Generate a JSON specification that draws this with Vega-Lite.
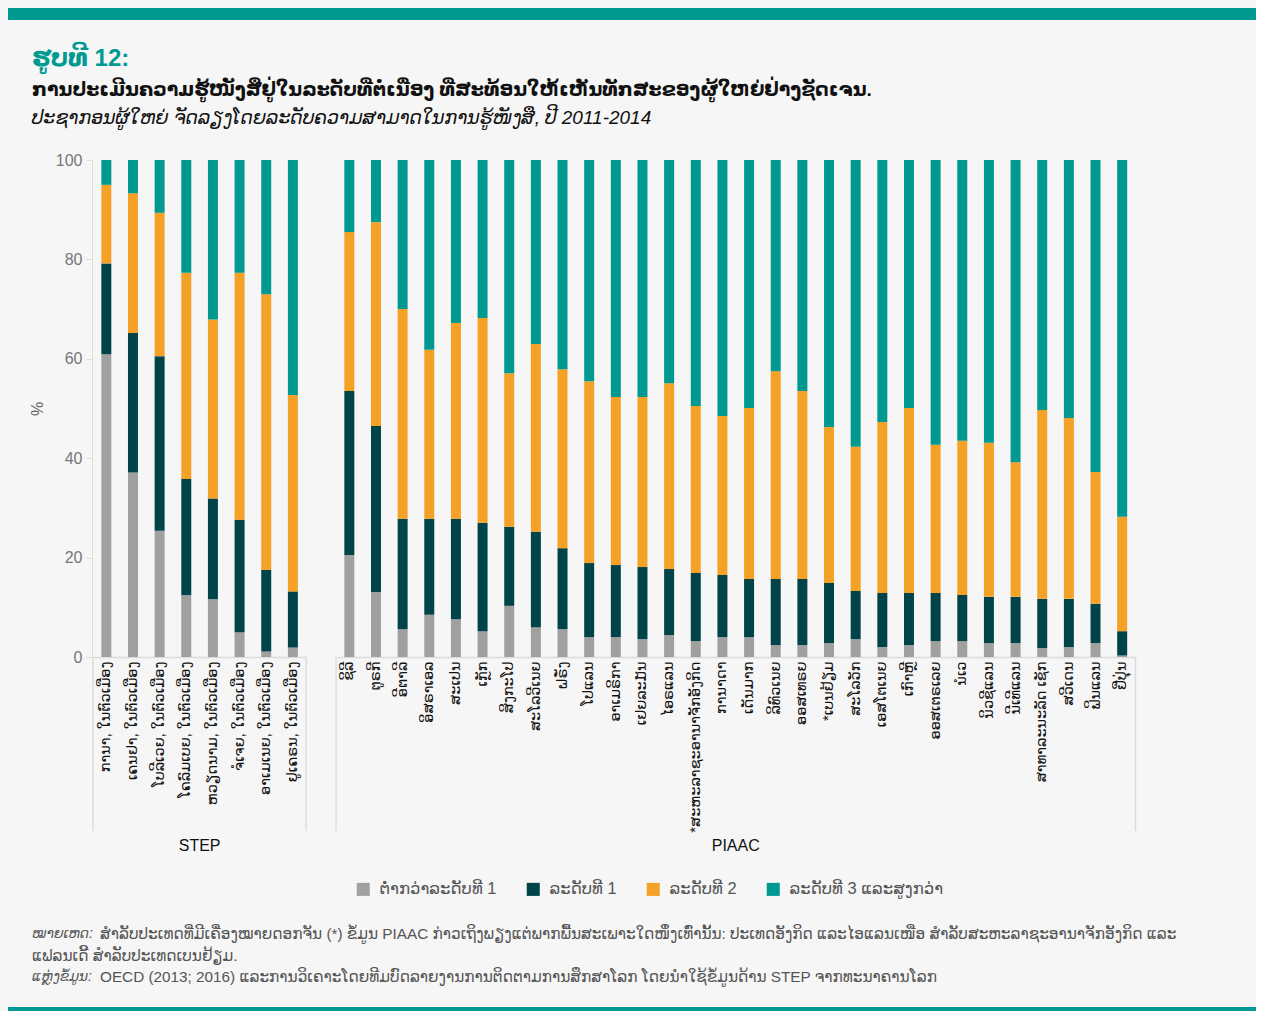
{
  "$schema": "https://vega.github.io/schema/vega-lite/v6.json",
  "background": "#f6f6f6",
  "padding": {"left": 8, "top": 8, "right": 0, "bottom": 0},
  "config": {
    "view": {"stroke": null},
    "font": "Liberation Sans, DejaVu Sans, sans-serif"
  },
  "columns": 1,
  "spacing": 9,
  "resolve": {"legend": {"color": "independent"}},
  "concat": [
    {
      "width": 1163,
      "height": 12,
      "data": {"values": [{"band": "top"}]},
      "mark": {"type": "rect", "color": "#009a93"},
      "encoding": {
        "x": {"datum": 0, "type": "quantitative", "scale": {"domain": [0, 1], "range": [-85, 1163]}, "axis": null},
        "x2": {"datum": 1},
        "y": {"datum": 0, "type": "quantitative", "scale": {"domain": [0, 1]}, "axis": null},
        "y2": {"datum": 1}
      },
      "title": {
        "text": "ຮູບທີ 12:",
        "subtitle": "ການປະເມີນຄວາມຮູ້ໜັງສືຢູ່ໃນລະດັບທີ່ຕໍ່ເນື່ອງ ທີ່ສະທ້ອນໃຫ້ເຫັນທັກສະຂອງຜູ້ໃຫຍ່ຢ່າງຊັດເຈນ.",
        "orient": "bottom",
        "anchor": "start",
        "frame": "group",
        "dx": -61,
        "offset": 27,
        "color": "#009a93",
        "fontSize": 24,
        "fontWeight": "bold",
        "subtitleColor": "#111111",
        "subtitleFontSize": 19,
        "subtitleFontWeight": "bold",
        "subtitlePadding": 10
      }
    },
    {
      "data": {
        "values": [
          {"survey": "STEP", "country": "ການາ, ໃນຕົວເມືອງ", "below1": 60.9, "level1": 18.3, "level2": 15.8, "level3": 5.0},
          {"survey": "STEP", "country": "ເຄນຢາ, ໃນຕົວເມືອງ", "below1": 37.1, "level1": 28.1, "level2": 28.1, "level3": 6.7},
          {"survey": "STEP", "country": "ໂບລີເວຍ, ໃນຕົວເມືອງ", "below1": 25.4, "level1": 35.1, "level2": 28.9, "level3": 10.6},
          {"survey": "STEP", "country": "ໂຄລົມເບຍ, ໃນຕົວເມືອງ", "below1": 12.4, "level1": 23.4, "level2": 41.5, "level3": 22.7},
          {"survey": "STEP", "country": "ຫວຽດນາມ, ໃນຕົວເມືອງ", "below1": 11.6, "level1": 20.3, "level2": 36.0, "level3": 32.1},
          {"survey": "STEP", "country": "ຈໍເຈຍ, ໃນຕົວເມືອງ", "below1": 5.0, "level1": 22.6, "level2": 49.7, "level3": 22.7},
          {"survey": "STEP", "country": "ອາເມເນຍ, ໃນຕົວເມືອງ", "below1": 1.1, "level1": 16.4, "level2": 55.5, "level3": 27.0},
          {"survey": "STEP", "country": "ຢູເຄຣນ, ໃນຕົວເມືອງ", "below1": 1.9, "level1": 11.3, "level2": 39.5, "level3": 47.3},
          {"survey": "PIAAC", "country": "ຊິລີ", "below1": 20.5, "level1": 33.0, "level2": 32.0, "level3": 14.5},
          {"survey": "PIAAC", "country": "ຕູຣກີ", "below1": 13.1, "level1": 33.4, "level2": 41.0, "level3": 12.5},
          {"survey": "PIAAC", "country": "ອີຕາລີ", "below1": 5.6, "level1": 22.2, "level2": 42.2, "level3": 30.0},
          {"survey": "PIAAC", "country": "ອິສຣາເອລ", "below1": 8.5, "level1": 19.3, "level2": 34.0, "level3": 38.2},
          {"survey": "PIAAC", "country": "ສະເປນ", "below1": 7.6, "level1": 20.2, "level2": 39.4, "level3": 32.8},
          {"survey": "PIAAC", "country": "ເກຼັກ", "below1": 5.2, "level1": 21.8, "level2": 41.2, "level3": 31.8},
          {"survey": "PIAAC", "country": "ສິງກະໂປ", "below1": 10.3, "level1": 15.9, "level2": 30.9, "level3": 42.9},
          {"survey": "PIAAC", "country": "ສະໂລວີເນຍ", "below1": 6.0, "level1": 19.2, "level2": 37.8, "level3": 37.0},
          {"survey": "PIAAC", "country": "ຝຣັ່ງ", "below1": 5.6, "level1": 16.3, "level2": 36.0, "level3": 42.1},
          {"survey": "PIAAC", "country": "ໂປແລນ", "below1": 4.0, "level1": 14.9, "level2": 36.6, "level3": 44.5},
          {"survey": "PIAAC", "country": "ອາເມຣິກາ", "below1": 4.0, "level1": 14.5, "level2": 33.8, "level3": 47.7},
          {"survey": "PIAAC", "country": "ເຢຍລະມັນ", "below1": 3.6, "level1": 14.5, "level2": 34.2, "level3": 47.7},
          {"survey": "PIAAC", "country": "ໄອຣແລນ", "below1": 4.4, "level1": 13.3, "level2": 37.4, "level3": 44.9},
          {"survey": "PIAAC", "country": "*ສະຫະລາຊະອານາຈັກອັງກິດ", "below1": 3.2, "level1": 13.7, "level2": 33.6, "level3": 49.5},
          {"survey": "PIAAC", "country": "ການາດາ", "below1": 4.0, "level1": 12.5, "level2": 32.0, "level3": 51.5},
          {"survey": "PIAAC", "country": "ເດັນມາກ", "below1": 4.0, "level1": 11.7, "level2": 34.4, "level3": 49.9},
          {"survey": "PIAAC", "country": "ລິທົວເນຍ", "below1": 2.4, "level1": 13.3, "level2": 41.8, "level3": 42.5},
          {"survey": "PIAAC", "country": "ອອສເທຣຍ", "below1": 2.4, "level1": 13.3, "level2": 37.8, "level3": 46.5},
          {"survey": "PIAAC", "country": "*ເບນຢ້ຽມ", "below1": 2.8, "level1": 12.1, "level2": 31.4, "level3": 53.7},
          {"survey": "PIAAC", "country": "ສະໂລວັກ", "below1": 3.6, "level1": 9.7, "level2": 29.0, "level3": 57.7},
          {"survey": "PIAAC", "country": "ເອສໂຕເນຍ", "below1": 2.0, "level1": 10.9, "level2": 34.4, "level3": 52.7},
          {"survey": "PIAAC", "country": "ເກົາຫຼີ", "below1": 2.4, "level1": 10.5, "level2": 37.2, "level3": 49.9},
          {"survey": "PIAAC", "country": "ອອສເຕຣເລຍ", "below1": 3.2, "level1": 9.7, "level2": 29.8, "level3": 57.3},
          {"survey": "PIAAC", "country": "ນໍເວ", "below1": 3.2, "level1": 9.3, "level2": 31.0, "level3": 56.5},
          {"survey": "PIAAC", "country": "ນິວຊີແລນ", "below1": 2.8, "level1": 9.3, "level2": 31.0, "level3": 56.9},
          {"survey": "PIAAC", "country": "ນີເທີແລນ", "below1": 2.8, "level1": 9.3, "level2": 27.1, "level3": 60.8},
          {"survey": "PIAAC", "country": "ສາທາລະນະລັດ ເຊັກ", "below1": 1.8, "level1": 9.9, "level2": 38.0, "level3": 50.3},
          {"survey": "PIAAC", "country": "ສວີເດນ", "below1": 2.0, "level1": 9.7, "level2": 36.4, "level3": 51.9},
          {"survey": "PIAAC", "country": "ຟິນແລນ", "below1": 2.8, "level1": 7.9, "level2": 26.5, "level3": 62.8},
          {"survey": "PIAAC", "country": "ຢີ່ປຸ່ນ", "below1": 0.3, "level1": 4.9, "level2": 23.0, "level3": 71.8}
        ]
      },
      "transform": [{"fold": ["below1", "level1", "level2", "level3"], "as": ["level", "pct"]}],
      "title": {
        "text": "ປະຊາກອນຜູ້ໃຫຍ່ ຈັດລຽງໂດຍລະດັບຄວາມສາມາດໃນການຮູ້ໜັງສື, ປີ 2011-2014",
        "anchor": "start",
        "frame": "group",
        "dx": -61,
        "fontStyle": "italic",
        "fontWeight": "normal",
        "fontSize": 19,
        "color": "#111111",
        "offset": 24
      },
      "facet": {
        "column": {
          "field": "survey",
          "type": "nominal",
          "sort": ["STEP", "PIAAC"],
          "header": {"title": null, "labelOrient": "bottom", "labelFontSize": 16, "labelColor": "#111111", "labelPadding": 5}
        }
      },
      "spacing": 28,
      "resolve": {"scale": {"x": "independent"}},
      "spec": {
        "width": {"step": 26.65},
        "height": 497,
        "encoding": {
          "x": {
            "field": "country",
            "type": "nominal",
            "sort": null,
            "scale": {"paddingInner": 0.625, "paddingOuter": 0.3125},
            "axis": {
              "title": null,
              "labelAngle": -90,
              "labelAlign": "right",
              "labelBaseline": "middle",
              "labelFontSize": 14.5,
              "labelColor": "#111111",
              "labelLimit": 400,
              "labelOverlap": false,
              "labelPadding": 4,
              "ticks": false,
              "domainColor": "#dcdcdc",
              "domainWidth": 1.5
            }
          }
        },
        "layer": [
          {
            "mark": {"type": "bar"},
            "encoding": {
              "y": {
                "field": "pct",
                "type": "quantitative",
                "stack": "zero",
                "scale": {"domain": [0, 100]},
                "axis": {
                  "title": "%",
                  "titleFontSize": 16,
                  "titleFontWeight": "normal",
                  "titleColor": "#666666",
                  "titlePadding": 10,
                  "labelFontSize": 16,
                  "labelColor": "#777777",
                  "values": [0, 20, 40, 60, 80, 100],
                  "grid": false,
                  "domainColor": "#dcdcdc",
                  "tickColor": "#dcdcdc",
                  "tickSize": 6,
                  "labelPadding": 4
                }
              },
              "order": {"field": "level", "type": "nominal", "sort": "ascending"},
              "color": {
                "field": "level",
                "type": "nominal",
                "sort": ["below1", "level1", "level2", "level3"],
                "scale": {"domain": ["below1", "level1", "level2", "level3"], "range": ["#a0a09f", "#004349", "#f5a126", "#009991"]},
                "legend": {
                  "orient": "none",
                  "legendX": 262,
                  "legendY": 721,
                  "direction": "horizontal",
                  "title": null,
                  "labelFontSize": 16.5,
                  "labelColor": "#555555",
                  "symbolType": "square",
                  "symbolSize": 170,
                  "symbolStrokeWidth": 0,
                  "symbolOpacity": 1,
                  "columnPadding": 28,
                  "labelOffset": 8,
                  "labelExpr": "datum.label == 'below1' ? 'ຕ່ຳກວ່າລະດັບທີ 1' : datum.label == 'level1' ? 'ລະດັບທີ 1' : datum.label == 'level2' ? 'ລະດັບທີ 2' : 'ລະດັບທີ 3 ແລະສູງກວ່າ'"
                }
              }
            }
          },
          {
            "transform": [{"filter": "datum.level == 'below1' && (datum.country == 'ການາ, ໃນຕົວເມືອງ' || datum.country == 'ຊິລີ')"}],
            "mark": {"type": "rule", "color": "#dcdcdc", "strokeWidth": 1.5, "xOffset": -13.3},
            "encoding": {
              "y": {"datum": 0, "type": "quantitative"},
              "y2": {"datum": -35}
            }
          },
          {
            "transform": [{"filter": "datum.level == 'below1' && (datum.country == 'ຢູເຄຣນ, ໃນຕົວເມືອງ' || datum.country == 'ຢີ່ປຸ່ນ')"}],
            "mark": {"type": "rule", "color": "#dcdcdc", "strokeWidth": 1.5, "xOffset": 13.3},
            "encoding": {
              "y": {"datum": 0, "type": "quantitative"},
              "y2": {"datum": -35}
            }
          }
        ]
      }
    },
    {
      "width": 1163,
      "height": 91,
      "data": {
        "values": [
          {"line": 1, "lead": "ໝາຍເຫດ:", "body": "ສໍາລັບປະເທດທີ່ມີເຄື່ອງໝາຍດອກຈັນ (*) ຂໍ້ມູນ PIAAC ກ່າວເຖິງພຽງແຕ່ພາກພື້ນສະເພາະໃດໜຶ່ງເທົ່ານັ້ນ: ປະເທດອັງກິດ ແລະໄອແລນເໜືອ ສໍາລັບສະຫະລາຊະອານາຈັກອັງກິດ ແລະ"},
          {"line": 2, "lead": "", "body": "ແຟລນເດີ້ ສໍາລັບປະເທດເບນຢ້ຽມ."},
          {"line": 3, "lead": "ແຫຼ່ງຂໍ້ມູນ:", "body": "OECD (2013; 2016) ແລະການວິເຄາະໂດຍທີມບົດລາຍງານການຕິດຕາມການສຶກສາໂລກ ໂດຍນໍາໃຊ້ຂໍ້ມູນດ້ານ STEP ຈາກທະນາຄານໂລກ"}
        ]
      },
      "encoding": {
        "y": {"field": "line", "type": "ordinal", "scale": {"type": "point", "padding": 0, "range": [27, 70]}, "axis": null},
        "x": {"datum": 0, "type": "quantitative", "scale": {"domain": [0, 1]}, "axis": null}
      },
      "layer": [
        {
          "transform": [{"filter": "datum.line != 2"}],
          "mark": {"type": "text", "align": "left", "baseline": "middle", "fontStyle": "italic", "fontSize": 14, "color": "#555555", "dx": -61},
          "encoding": {"text": {"field": "lead"}}
        },
        {
          "transform": [{"filter": "datum.line != 2"}],
          "mark": {"type": "text", "align": "left", "baseline": "middle", "fontSize": 15.3, "color": "#555555", "dx": 7},
          "encoding": {"text": {"field": "body"}}
        },
        {
          "transform": [{"filter": "datum.line == 2"}],
          "mark": {"type": "text", "align": "left", "baseline": "middle", "fontSize": 15.3, "color": "#555555", "dx": -61},
          "encoding": {"text": {"field": "body"}}
        }
      ]
    },
    {
      "width": 1163,
      "height": 10,
      "data": {"values": [{"band": "bottom"}]},
      "mark": {"type": "rect", "color": "#009a93"},
      "encoding": {
        "x": {"datum": 0, "type": "quantitative", "scale": {"domain": [0, 1], "range": [-85, 1163]}, "axis": null},
        "x2": {"datum": 1},
        "y": {"datum": 0, "type": "quantitative", "scale": {"domain": [0, 1]}, "axis": null},
        "y2": {"datum": 1}
      }
    }
  ]
}
